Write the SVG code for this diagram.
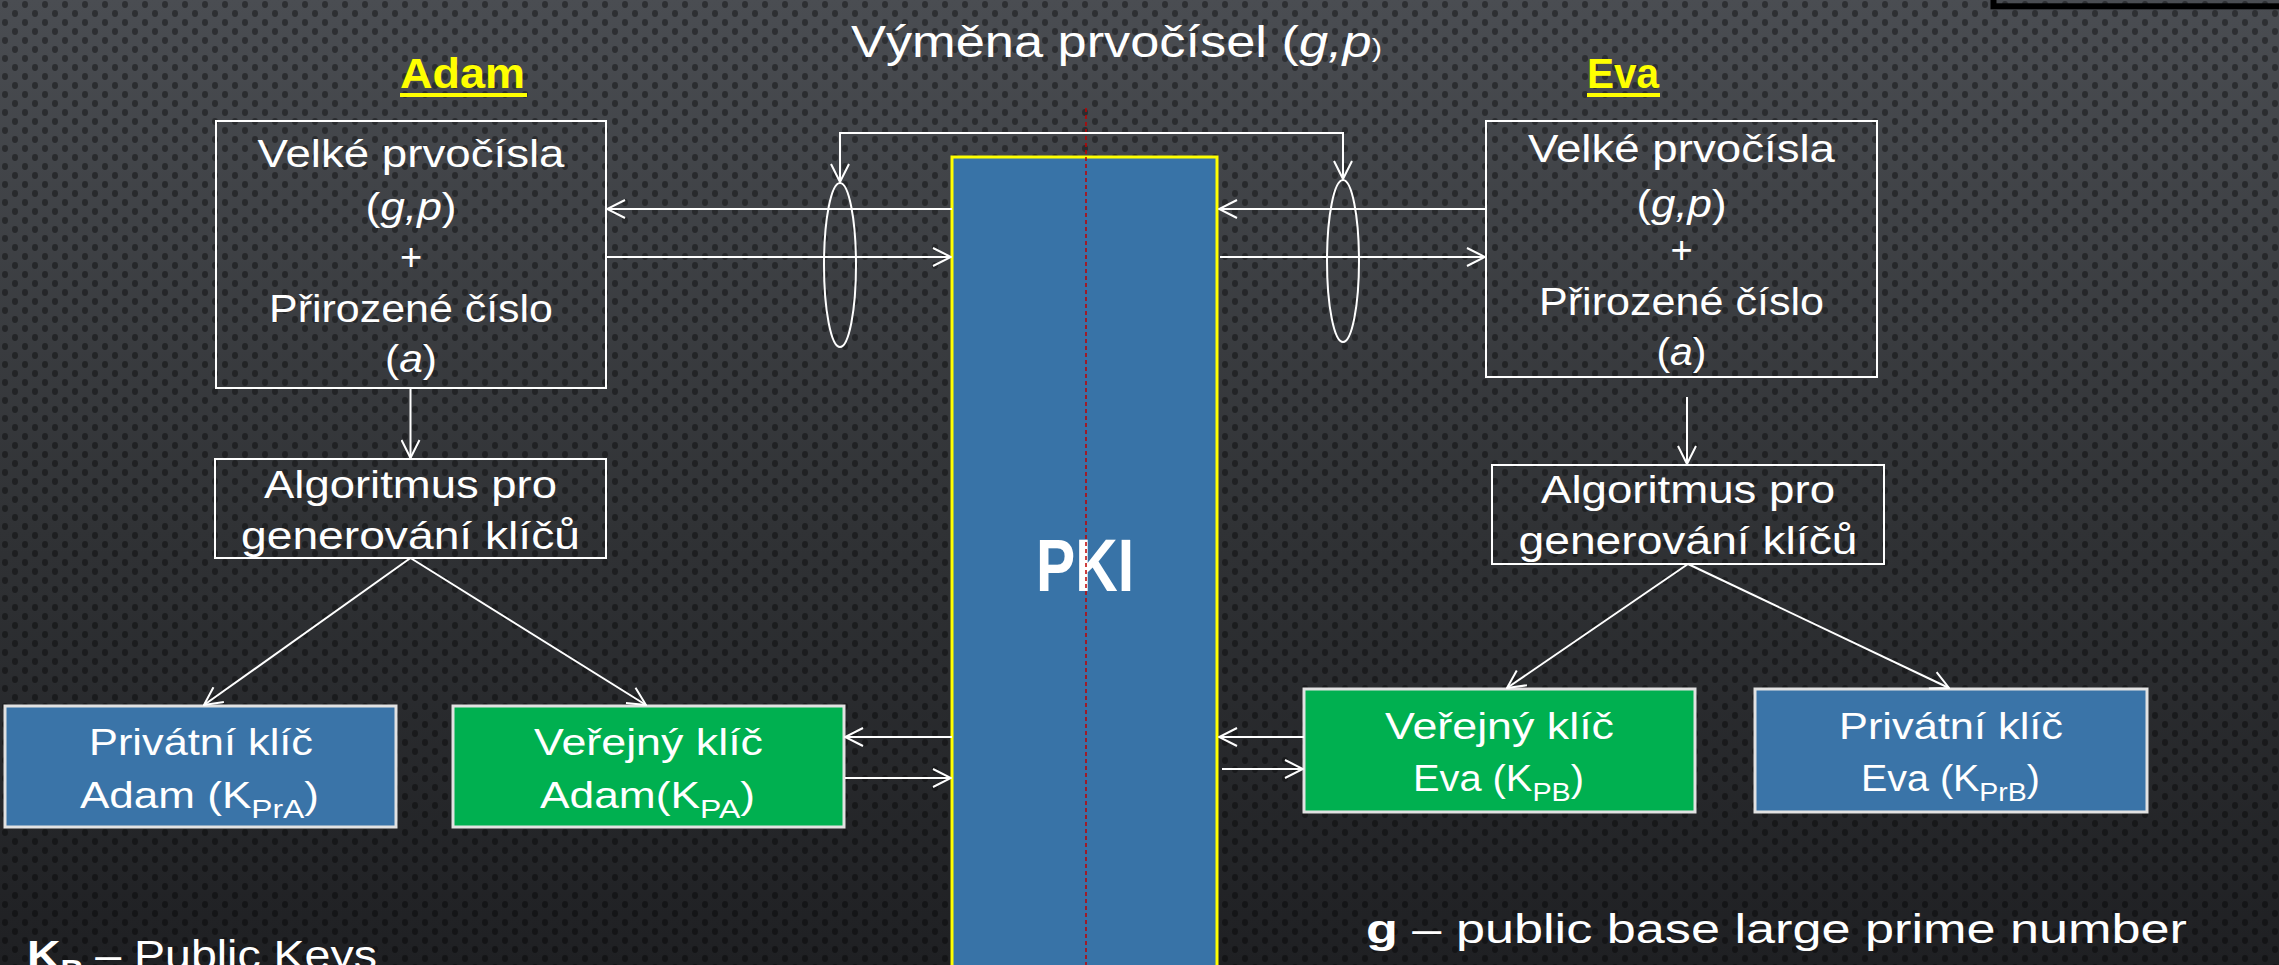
<svg xmlns="http://www.w3.org/2000/svg" width="2279" height="965" viewBox="0 0 2279 965">
<defs>
<linearGradient id="bg" x1="0" y1="0" x2="0" y2="1">
<stop offset="0" stop-color="#4a4d52"/>
<stop offset="0.55" stop-color="#303235"/>
<stop offset="1" stop-color="#1f2023"/>
</linearGradient>
<pattern id="dots" width="20" height="18" patternUnits="userSpaceOnUse">
<ellipse cx="5" cy="4.5" rx="3" ry="3.4" fill="#000" fill-opacity="0.38"/>
<ellipse cx="15" cy="13.5" rx="3" ry="3.4" fill="#000" fill-opacity="0.38"/>
</pattern>
<marker id="ah" viewBox="0 0 20 20" refX="19" refY="10" markerWidth="20" markerHeight="20" markerUnits="userSpaceOnUse" orient="auto">
<path d="M1,1 L19,10 L1,19" fill="none" stroke="#fff" stroke-width="2"/>
</marker>
<style>
.t{font-family:"Liberation Sans",Arial,sans-serif;fill:#fff;text-anchor:middle;}
.b38{font-size:38px;}
.b36{font-size:36px;}
.frame{fill:none;stroke:#fff;stroke-width:2;}
.key{stroke:#e2e2e2;stroke-width:3;}
.blue{fill:#3a74a8;}
.green{fill:#00b050;}
.c{fill:none;stroke:#fff;stroke-width:2;}
.ca{fill:none;stroke:#fff;stroke-width:2;marker-end:url(#ah);}
.name{font-family:"Liberation Sans",Arial,sans-serif;font-weight:bold;font-size:42px;fill:#ffff00;}
</style>
</defs>
<rect x="0" y="0" width="2279" height="965" fill="url(#bg)"/>
<rect x="0" y="0" width="2279" height="965" fill="url(#dots)"/>
<rect x="1993.5" y="-30" width="400" height="36.3" fill="none" stroke="#000" stroke-width="6"/>

<g id="title">
<text class="t" x="1116.5" y="57" font-size="44" textLength="531" lengthAdjust="spacingAndGlyphs">Výměna prvočísel (<tspan font-style="italic">g,p</tspan><tspan font-size="26">)</tspan></text>
</g>

<g id="adam-label">
<text class="name" x="400" y="88" textLength="125" lengthAdjust="spacingAndGlyphs">Adam</text>
<rect x="400" y="93" width="127" height="4" fill="#ffff00"/>
</g>
<g id="eva-label">
<text class="name" x="1587" y="88" textLength="72" lengthAdjust="spacingAndGlyphs">Eva</text>
<rect x="1587" y="93" width="73" height="4" fill="#ffff00"/>
</g>

<g id="pki">
<rect x="952" y="157" width="265" height="830" fill="#3873a7" stroke="#ffff00" stroke-width="3"/>
<text class="t" x="1085" y="591" font-size="75" font-weight="bold" textLength="98" lengthAdjust="spacingAndGlyphs">PKI</text>
<line x1="1086" y1="108" x2="1086" y2="965" stroke="#c00000" stroke-width="1.5" stroke-dasharray="4,3"/>
</g>

<g id="adam-primes">
<rect class="frame" x="216" y="121" width="390" height="267"/>
<text class="t b38" x="411" y="167" textLength="307" lengthAdjust="spacingAndGlyphs">Velké prvočísla</text>
<text class="t b38" x="411" y="220" textLength="91" lengthAdjust="spacingAndGlyphs">(<tspan font-style="italic">g,p</tspan>)</text>
<text class="t b38" x="411" y="270">+</text>
<text class="t b38" x="411" y="322" textLength="284" lengthAdjust="spacingAndGlyphs">Přirozené číslo</text>
<text class="t b38" x="411" y="372" textLength="52" lengthAdjust="spacingAndGlyphs">(<tspan font-style="italic">a</tspan>)</text>
</g>

<g id="eva-primes">
<rect class="frame" x="1486" y="121" width="391" height="256"/>
<text class="t b38" x="1681.5" y="162" textLength="307" lengthAdjust="spacingAndGlyphs">Velké prvočísla</text>
<text class="t b38" x="1681.5" y="217" textLength="90" lengthAdjust="spacingAndGlyphs">(<tspan font-style="italic">g,p</tspan>)</text>
<text class="t b38" x="1681.5" y="263">+</text>
<text class="t b38" x="1681.5" y="315" textLength="285" lengthAdjust="spacingAndGlyphs">Přirozené číslo</text>
<text class="t b38" x="1681.5" y="365" textLength="50" lengthAdjust="spacingAndGlyphs">(<tspan font-style="italic">a</tspan>)</text>
</g>

<g id="adam-algo">
<rect class="frame" x="215" y="459" width="391" height="99"/>
<text class="t b38" x="410.5" y="498" textLength="293" lengthAdjust="spacingAndGlyphs">Algoritmus pro</text>
<text class="t b38" x="410.5" y="549" textLength="339" lengthAdjust="spacingAndGlyphs">generování klíčů</text>
</g>

<g id="eva-algo">
<rect class="frame" x="1492" y="465" width="392" height="99"/>
<text class="t b38" x="1688" y="503" textLength="294" lengthAdjust="spacingAndGlyphs">Algoritmus pro</text>
<text class="t b38" x="1688" y="554" textLength="339" lengthAdjust="spacingAndGlyphs">generování klíčů</text>
</g>

<g id="adam-private">
<rect class="key blue" x="5" y="706" width="391" height="121"/>
<text class="t b36" x="201" y="755" textLength="224" lengthAdjust="spacingAndGlyphs">Privátní klíč</text>
<text class="t b36" x="199.5" y="808" textLength="239" lengthAdjust="spacingAndGlyphs">Adam (K<tspan font-size="26" dy="10">PrA</tspan><tspan dy="-10">)</tspan></text>
</g>

<g id="adam-public">
<rect class="key green" x="453" y="706" width="391" height="121"/>
<text class="t b36" x="648.5" y="755" textLength="229" lengthAdjust="spacingAndGlyphs">Veřejný klíč</text>
<text class="t b36" x="647.5" y="808" textLength="215" lengthAdjust="spacingAndGlyphs">Adam(K<tspan font-size="26" dy="10">PA</tspan><tspan dy="-10">)</tspan></text>
</g>

<g id="eva-public">
<rect class="key green" x="1304" y="689" width="391" height="123"/>
<text class="t b36" x="1499.5" y="739" textLength="229" lengthAdjust="spacingAndGlyphs">Veřejný klíč</text>
<text class="t b36" x="1498.5" y="791" textLength="171" lengthAdjust="spacingAndGlyphs">Eva (K<tspan font-size="26" dy="10">PB</tspan><tspan dy="-10">)</tspan></text>
</g>

<g id="eva-private">
<rect class="key blue" x="1755" y="689" width="392" height="123"/>
<text class="t b36" x="1951" y="739" textLength="224" lengthAdjust="spacingAndGlyphs">Privátní klíč</text>
<text class="t b36" x="1950.5" y="791" textLength="179" lengthAdjust="spacingAndGlyphs">Eva (K<tspan font-size="26" dy="10">PrB</tspan><tspan dy="-10">)</tspan></text>
</g>

<g id="connectors">
<line class="ca" x1="952" y1="209" x2="607" y2="209"/>
<line class="ca" x1="606" y1="257" x2="951" y2="257"/>
<line class="ca" x1="1486" y1="209" x2="1219" y2="209"/>
<line class="ca" x1="1220" y1="257" x2="1485" y2="257"/>
<path class="ca" d="M1091,133 H840 V182"/>
<path class="ca" d="M1091,133 H1343 V179"/>
<ellipse class="c" cx="840" cy="265" rx="16" ry="82"/>
<ellipse class="c" cx="1343" cy="261" rx="16" ry="81"/>
<line class="ca" x1="410.5" y1="388" x2="410.5" y2="458"/>
<line class="ca" x1="1687" y1="397" x2="1687" y2="464"/>
<line class="ca" x1="410.5" y1="558" x2="204" y2="705"/>
<line class="ca" x1="410.5" y1="558" x2="646" y2="705"/>
<line class="ca" x1="1688" y1="564" x2="1507" y2="688"/>
<line class="ca" x1="1688" y1="564" x2="1949" y2="688"/>
<line class="ca" x1="952" y1="737" x2="845" y2="737"/>
<line class="ca" x1="845" y1="778" x2="951" y2="778"/>
<line class="ca" x1="1304" y1="737" x2="1219" y2="737"/>
<line class="ca" x1="1222" y1="769" x2="1303" y2="769"/>
</g>

<g id="legend">
<text x="27" y="969" font-family="Liberation Sans, Arial, sans-serif" font-size="40" fill="#fff" textLength="350" lengthAdjust="spacingAndGlyphs"><tspan font-weight="bold">K<tspan font-size="28" dy="10">P</tspan></tspan><tspan dy="-10"> – Public Keys</tspan></text>
<text x="1366" y="943" font-family="Liberation Sans, Arial, sans-serif" font-size="40" fill="#fff" textLength="821" lengthAdjust="spacingAndGlyphs"><tspan font-weight="bold">g</tspan> – public base large prime number</text>
</g>
</svg>
